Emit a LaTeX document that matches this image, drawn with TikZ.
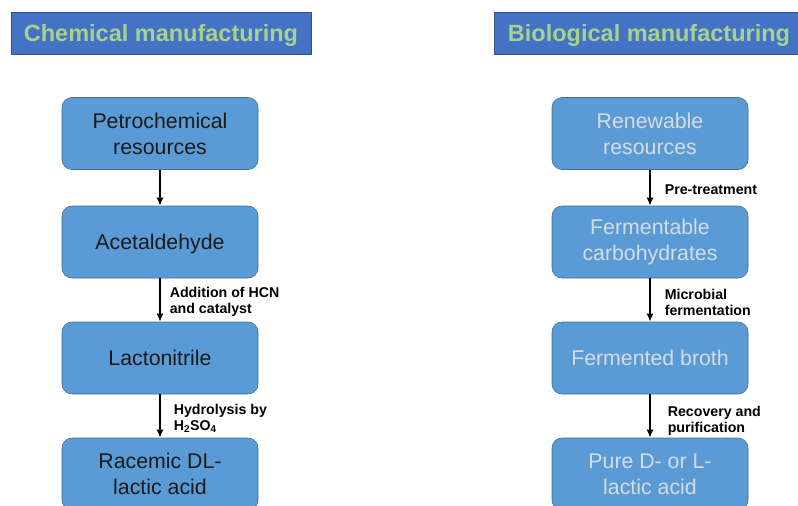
\documentclass[tikz,border=0pt]{standalone}
\usepackage{fontspec}
\setmainfont{Liberation Sans}
\usepackage{tikz}
\usepackage{xcolor}
\usetikzlibrary{arrows.meta,positioning}
\definecolor{headfill}{HTML}{4472C4}
\definecolor{headline}{HTML}{2F528F}
\definecolor{headtext}{HTML}{A9D18E}
\definecolor{boxfill}{HTML}{5B9BD5}
\definecolor{boxline}{HTML}{41719C}
\definecolor{darkink}{HTML}{1A1A1A}
\definecolor{lightink}{HTML}{D6DCE4}
\tikzset{
  headbox/.style={draw=headline,fill=headfill,line width=0.6pt,
                  minimum height=42pt,inner sep=0pt,text height=18pt,text depth=1pt,
                  text=headtext,font=\fontsize{23.5}{28}\selectfont\bfseries},
  stagebox/.style={draw=boxline,fill=boxfill,line width=0.6pt,rounded corners=10pt,
                   minimum width=196pt,minimum height=72pt,inner sep=0pt,
                   align=center,font=\fontsize{21.3}{26}\selectfont},
  oneline/.style={text height=17pt,text depth=2pt},
  darkstage/.style={stagebox,text=darkink},
  lightstage/.style={stagebox,text=lightink},
  steparr/.style={-{Latex[length=8pt,width=7pt]},line width=1.6pt,color=black},
  steplabel/.style={right,inner sep=0pt,align=left,yshift=-2pt,
                    font=\fontsize{14.2}{16}\selectfont\bfseries}
}

\begin{document}
\begin{tikzpicture}[x=1pt,y=-1pt]
  \useasboundingbox (0,0) rectangle (798,506);
  \clip (0,0) rectangle (798,506);
  % headings
  \node[headbox,minimum width=300pt] (chemhead) at (161,33) {Chemical manufacturing};
  \node[headbox,minimum width=310pt] (biohead) at (649,33) {Biological manufacturing};
  % chemical route
  \node[darkstage] (petro) at (160,133.5) {Petrochemical\\resources};
  \node[darkstage,oneline] (acet) at (160,242) {Acetaldehyde};
  \node[darkstage,oneline] (lacto) at (160,358) {Lactonitrile};
  \node[darkstage] (racem) at (160,474) {Racemic DL-\\lactic acid};
  \draw[steparr] (petro) -- (acet);
  \draw[steparr] (acet) -- node[steplabel,xshift=9pt] (hcn) {Addition of HCN\\and catalyst} (lacto);
  \draw[steparr] (lacto) -- node[steplabel,xshift=13pt] (hydro) {Hydrolysis by\\H\textsubscript{2}SO\textsubscript{4}} (racem);
  % biological route
  \node[lightstage] (renew) at (650,133.5) {Renewable\\resources};
  \node[lightstage] (ferm) at (650,242) {Fermentable\\carbohydrates};
  \node[lightstage,oneline] (broth) at (650,358) {Fermented broth};
  \node[lightstage] (pure) at (650,474) {Pure D- or L-\\lactic acid};
  \draw[steparr] (renew) -- node[steplabel,xshift=14pt] (pretr) {Pre-treatment} (ferm);
  \draw[steparr] (ferm) -- node[steplabel,xshift=14pt] (micro) {Microbial\\fermentation} (broth);
  \draw[steparr] (broth) -- node[steplabel,xshift=17pt,yshift=-3pt] (recov) {Recovery and\\purification} (pure);
\end{tikzpicture}
\end{document}
